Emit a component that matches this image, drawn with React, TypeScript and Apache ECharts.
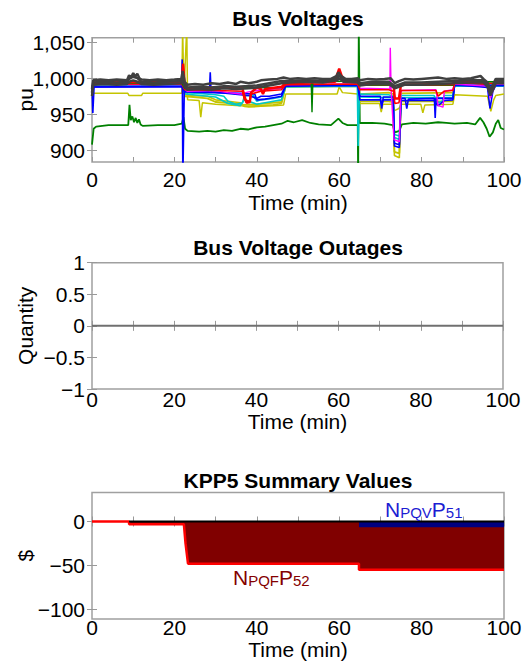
import React, { useEffect, useRef } from 'react';
import * as echarts from 'echarts';

type Pt = [number, number];

const FONT = '"Liberation Sans", Arial, Helvetica, sans-serif';
const FS = 21;
const LH = 17;

const titles = ['Bus Voltages', 'Bus Voltage Outages', 'KPP5 Summary Values'];
const xName = 'Time (min)';
const yNames = ['pu', 'Quantity', '$'];
const busTicks = [900, 950, 1000, 1050];
const outageTicks = [-1, -0.5, 0, 0.5, 1];
const kppTicks = [-100, -50, 0];

// ---- Bus voltages (pu x 1000) ----
const busGrayHi: Pt[] = [[0,985],[0.3,997],[2,998],[4,997],[6,998],[8.5,997],[9,1004],[9.5,1001],[10,1007],[10.5,1002],[11,1006],[11.5,1000],[12,998],[14,997],[16,998],[18,997],[20,998],[21.7,999],[22,1010],[22.5,995],[23.1,991],[25,992],[27,991],[29,993],[31,992],[33,994],[35,992],[36,995],[38,993],[40,995],[41,997],[43,998],[45,999],[46.5,1001],[48,999],[50,1000],[52,999],[54,1000],[56,999],[58,999],[59.3,1003],[59.8,1008],[60.5,1003],[61.5,999],[63,999],[64.5,1000],[65,997],[67,999],[69,998],[71,999],[72.5,1000],[73.5,993],[74.5,996],[76,999],[78,998],[80,999],[82,1000],[84,1001],[86,999],[88,1000],[90,999],[92,1000],[94.3,1003],[95,999],[96,994],[96.7,984],[97.4,992],[98,999],[100,999]];
const busGrayMid: Pt[] = [[0,980],[0.3,994],[3,995],[6,994],[8.5,995],[9,999],[10,1002],[11,1000],[12,995],[15,994],[18,995],[21.7,996],[22,1004],[22.5,991],[23.1,987],[26,988],[29,987],[32,989],[35,988],[38,989],[40,990],[43,993],[46,996],[48,996],[52,997],[56,996],[59.5,1000],[60,1004],[61,997],[64.5,997],[65,993],[68,995],[72,995],[73.5,989],[74.5,991],[76,994],[80,994],[84,995],[88,996],[92,997],[95,997],[96,991],[96.7,980],[97.4,988],[98,996],[100,996]];
const busGrayLo: Pt[] = [[0,975],[0.3,991],[3,992],[6,991],[8.5,992],[9,995],[10,997],[11,995],[12,992],[15,991],[18,992],[21.7,993],[22,1000],[22.5,988],[23.1,984],[26,985],[29,984],[32,986],[35,985],[38,986],[40,987],[43,990],[46,993],[48,994],[52,995],[56,994],[59.5,997],[60,1000],[61,995],[64.5,994],[65,990],[68,992],[72,992],[73.5,986],[74.5,988],[76,991],[80,991],[84,992],[88,993],[92,994],[95,994],[96,988],[96.7,976],[97.4,985],[98,993],[100,993]];
const busRed: Pt[] = [[0,994],[21.8,995],[22.1,1020],[22.5,990],[23.1,986],[30,987],[36.5,986],[37,975],[37.5,966],[38.3,967],[38.6,980],[40,987],[41,985],[41.5,978],[42,985],[46,988],[47,993],[59,995],[59.5,1005],[60,1013],[60.6,1003],[61.5,996],[64.5,996],[65,992],[72,992],[73.2,990],[73.5,972],[74.5,972],[75,991],[87.6,992],[88,996],[96,992],[96.7,978],[97.4,988],[98,996],[100,996]];
const busRed2: Pt[] = [[0,992],[21.8,992],[22.5,984],[30,983],[36.5,982],[37,970],[38.3,968],[38.6,978],[41,982],[46,984],[47,991],[64.5,992],[65,984],[72,984],[73.2,982],[73.5,965],[74.5,966],[75,983],[83.5,983],[84,975],[85.5,982],[87.6,983],[88,993],[100,993]];
const busMagenta: Pt[] = [[0,991],[21.8,991],[22.2,1005],[22.5,985],[23.1,982],[30,983],[33,980],[36,978],[38,981],[40,983],[46,986],[47,991],[64.5,992],[65,986],[72.3,985],[72.4,1042],[72.6,984],[73.3,915],[74.6,912],[75,983],[83.5,984],[84,962],[85.2,960],[85.5,982],[87.6,984],[88,992],[96,989],[96.7,972],[97.4,985],[98,992],[100,992]];
const busBlue: Pt[] = [[0,990],[0.2,952],[0.5,988],[21.7,989],[21.9,1026],[22.05,860],[22.4,983],[28.5,982],[28.7,1008],[28.9,981],[33,979],[36,977],[38,976],[40,972],[41,975],[43,975],[45,977],[46,978],[47,990],[64.5,991],[65,975],[70,975],[70.3,958],[70.7,974],[73.1,974],[73.4,906],[74.6,904],[75,972],[76,972],[76.4,958],[76.8,971],[83.1,972],[83.3,945],[83.5,972],[87.6,972],[88,991],[96,987],[96.6,958],[97.3,982],[98,990],[100,990]];
const busBlue2: Pt[] = [[0,988],[21.8,988],[22.5,981],[30,980],[36,979],[39.5,978],[40,970],[42,971],[44,973],[46,975],[47,989],[64.5,990],[65,970],[70,970],[70.3,962],[70.7,970],[73.1,970],[73.4,910],[74.6,908],[75,969],[83,969],[84,962],[85.5,969],[87.6,970],[88,990],[100,990]];
const busCyan: Pt[] = [[0,990],[21.8,990],[22.3,1000],[22.7,980],[26,979],[30,977],[32,975],[33,968],[35,964],[36.5,966],[37,975],[39,977],[40,968],[41,970],[44,972],[46,974],[47,989],[64.4,990],[64.6,906],[64.9,978],[72,977],[73.1,975],[73.4,918],[74.6,915],[75,976],[83,976],[84,966],[85,968],[85.5,976],[87.6,976],[88,990],[100,990]];
const busCyan2: Pt[] = [[0,989],[21.8,989],[22.6,978],[30,974],[33,965],[36,962],[37,970],[40,964],[44,968],[46,970],[47,988],[64.5,989],[65,974],[73.1,973],[73.4,922],[74.6,920],[75,973],[87.6,973],[88,989],[100,989]];
const busYellowMid: Pt[] = [[0,993],[21.8,993],[22.5,980],[23.1,976],[28,975],[30,970],[33,968],[36,966],[37,961],[40,962],[44,963],[46,965],[47,989],[64.5,990],[65,978],[72,980],[73.1,978],[73.4,893],[74.6,890],[75,979],[87.6,980],[88,993],[100,993]];
const busYellow3: Pt[] = [[0,992],[21.8,992],[22.6,975],[28,972],[30,967],[34,965],[37,963],[40,964],[46,967],[47,988],[64.5,989],[65,968],[72,968],[73.1,967],[73.4,898],[74.6,896],[75,968],[87.6,968],[88,992],[100,992]];
const busYellowLow: Pt[] = [[0,972],[0.4,979],[8.7,979],[9,976],[12,976],[12.3,979],[21.8,979],[22,1070],[22.3,978],[23,1070],[23.2,970],[26,969],[26.4,946],[26.8,966],[30,964],[33,963],[36,962],[38,960],[41,961],[44,962],[46.5,963],[47,978],[59.5,978],[60,988],[60.8,980],[64.5,978],[65,965],[69.8,965],[70.2,953],[70.6,964],[73.1,964],[73.4,955],[74.5,958],[75,964],[79.8,964],[80.3,952],[80.8,963],[87.6,964],[88,977],[96,975],[96.8,954],[97.5,970],[98,976],[100,978]];
const busGreenUp: Pt[] = [[0,993],[21.8,993],[22.5,986],[46,987],[47,996],[53.2,996],[53.4,953],[53.6,995],[64.5,996],[65,990],[87.6,990],[88,995],[100,995]];
const busGreenLow: Pt[] = [[0,908],[0.4,930],[1,933],[4,935],[8.8,935],[9.1,963],[9.4,942],[9.8,947],[10.2,939],[10.6,945],[11,938],[11.4,943],[11.8,936],[12.3,934],[16,935],[20,935],[21.8,937],[22.2,946],[22.6,930],[23.2,927],[26,926],[28,927],[30,926],[32,928],[34,927],[36,930],[38,929],[40,932],[42,933],[44,935],[46,937],[47.5,941],[49,939],[51,942],[53,938],[55,936],[58,935],[59.8,944],[60.8,938],[62,935],[64.5,935],[64.6,860],[64.75,1070],[65,938],[68,938],[71,937],[73,935],[73.5,925],[74.6,927],[75.2,936],[78,938],[81,937],[84,939],[86,938],[88,937],[91,938],[93,936],[94.2,945],[95,939],[95.8,930],[96.5,919],[97.3,925],[98,937],[98.6,942],[99.2,931],[100,929]];

// ---- Bus voltage outages ----
const outageCount: Pt[] = [[0, 0], [100, 0]];

// ---- KPP5 summary values ($) ----
const kppTotal: Pt[] = [[0,0],[9,0],[9,-3],[22.3,-3],[22.7,-25],[23.3,-48],[64.8,-48],[64.8,-55],[100,-55]];
const kppZeroEdge: Pt[] = [[9,0],[100,0]];
const kppNpqv: Pt[] = [[64.8,-5.6],[100,-5.6]];

const BLUE_TXT = '#1c1cd2';
const RED_TXT = '#840000';

const fmt = (v: number): string => {
  const a = Math.abs(v);
  const s = a >= 1000 ? a.toLocaleString('en-US') : String(a);
  return v < 0 ? '\u2212' + s : s;
};

const grids = [
  { left: 92, right: 21, top: 37.7, height: 124.3 },
  { left: 92, right: 22, top: 262.7, height: 126.3 },
  { left: 92, right: 21, top: 492.5, height: 126.5 },
];

const tickStyle = { inside: true, length: 5, lineStyle: { color: '#999', width: 1 } };

function xAxes(g: number, labelMargin: number, nameGap: number) {
  return [
    {
      type: 'value', gridIndex: g, min: 0, max: 100, interval: 10,
      axisLine: { show: false }, axisTick: tickStyle, splitLine: { show: false },
      axisLabel: {
        margin: labelMargin, fontSize: FS, lineHeight: LH, color: '#000', fontFamily: FONT,
        formatter: (v: number) => (Math.round(v) % 20 === 0 ? String(Math.round(v)) : ''),
      },
      name: xName, nameLocation: 'middle', nameGap, nameMoveOverlap: false,
      nameTextStyle: { fontSize: FS, lineHeight: LH, color: '#000', fontFamily: FONT },
    },
    {
      type: 'value', gridIndex: g, min: 0, max: 100, interval: 10, position: 'top',
      axisLine: { show: false }, axisTick: tickStyle, splitLine: { show: false },
      axisLabel: { show: false },
    },
  ];
}

function yAxes(g: number, min: number, max: number, ticks: number[], name: string, interval?: number) {
  const base: any = { type: 'value', gridIndex: g, min, max, splitLine: { show: false }, axisLine: { show: false } };
  if (interval) base.interval = interval; else base.splitNumber = 3;
  return [
    {
      ...base,
      axisTick: { ...tickStyle, customValues: ticks },
      axisLabel: { customValues: ticks, margin: 7, fontSize: FS, lineHeight: LH, color: '#000', fontFamily: FONT, formatter: (v: number) => fmt(v) },
      name, nameLocation: 'middle', nameGap: 59, nameRotate: 90, nameMoveOverlap: false,
      nameTextStyle: { fontSize: FS, lineHeight: 16, color: '#000', fontFamily: FONT },
    },
    {
      ...base, position: 'right',
      axisTick: { ...tickStyle, customValues: ticks },
      axisLabel: { show: false },
    },
  ];
}

function line(data: Pt[], color: string, width: number, xi: number, extra: any = {}) {
  return {
    type: 'line', data, xAxisIndex: xi, yAxisIndex: xi, symbol: 'none', showSymbol: false,
    lineStyle: { color, width }, itemStyle: { color }, clip: true, silent: true, z: 2, ...extra,
  };
}

function subLabel(x: number, y: number, main1: string, sub1: string, main2: string, sub2: string, fill: string) {
  return {
    type: 'text', x, y, z: 10,
    style: {
      text: `{n|${main1}}{s|${sub1}}{n|${main2}}{s|${sub2}}`,
      rich: {
        n: { fontSize: FS, fontFamily: FONT, fill, lineHeight: 24, verticalAlign: 'bottom' },
        s: { fontSize: 15, fontFamily: FONT, fill, lineHeight: 14, verticalAlign: 'bottom' },
      },
    },
  };
}

export default function App() {
  const ref = useRef<HTMLDivElement>(null);
  useEffect(() => {
    if (!ref.current) return;
    const chart = echarts.init(ref.current, undefined, { renderer: 'svg' });
    const titleTops = [8, 237, 470];
    chart.setOption({
      animation: false,
      backgroundColor: '#fff',
      title: titles.map((t, i) => ({
        text: t, left: 298, top: titleTops[i], padding: 0, textAlign: 'center',
        textStyle: { fontSize: FS, fontWeight: 'bold', color: '#000', fontFamily: FONT },
      })),
      grid: grids.map((g) => ({
        ...g, show: true, borderColor: '#a0a0a0', borderWidth: 1.5, backgroundColor: '#fff',
        containLabel: false, outerBoundsMode: 'none',
      })),
      xAxis: [...xAxes(0, 8.5, 31.5), ...xAxes(1, 2, 23.5), ...xAxes(2, -0.5, 21.5)],
      yAxis: [
        ...yAxes(0, 884, 1056, busTicks, yNames[0]),
        ...yAxes(1, -1, 1, outageTicks, yNames[1], 0.5),
        ...yAxes(2, -111, 33, kppTicks, yNames[2]),
      ],
      series: [
        line(busGreenLow, '#008000', 1.8, 0),
        line(busYellowLow, '#c4c400', 1.5, 0),
        line(busYellow3, '#c4c400', 1.8, 0),
        line(busYellowMid, '#c4c400', 1.6, 0),
        line(busCyan2, '#00c8c8', 1.6, 0),
        line(busCyan, '#00c8c8', 1.6, 0),
        line(busBlue2, '#0000ff', 1.6, 0),
        line(busBlue, '#0000ff', 1.6, 0),
        line(busMagenta, '#ff00ff', 1.4, 0),
        line(busRed2, '#ff0000', 1.6, 0),
        line(busGreenUp, '#008000', 1.4, 0),
        line(busRed, '#ff0000', 2.5, 0),
        line(busGrayLo, '#404040', 2.5, 0),
        line(busGrayMid, '#404040', 2.5, 0),
        line(busGrayHi, '#404040', 2.5, 0),
        line(outageCount, '#707070', 2, 2),
        line(kppTotal, '#ff0000', 2.5, 4, { areaStyle: { color: '#800000', opacity: 1, origin: 'auto' } }),
        line(kppZeroEdge, '#000000', 2, 4),
        line(kppNpqv, '#000080', 1.5, 4, { areaStyle: { color: '#000080', opacity: 1, origin: 'auto' } }),
      ],
      graphic: [
        subLabel(385, 496, 'N', 'PQV', 'P', '51', BLUE_TXT),
        subLabel(233, 564, 'N', 'PQF', 'P', '52', RED_TXT),
      ],
    });
    return () => chart.dispose();
  }, []);
  return <div ref={ref} style={{ position: 'fixed', left: 0, top: 0, width: 525, height: 662 }} />;
}
